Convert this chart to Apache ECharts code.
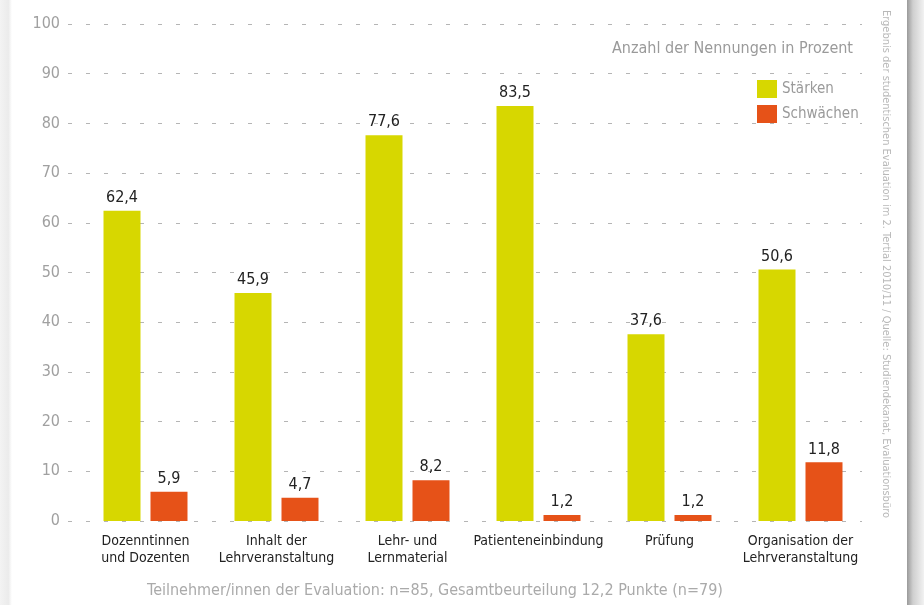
<!DOCTYPE html>
<html><head><meta charset="utf-8">
<script src="https://cdn.jsdelivr.net/npm/echarts@6/dist/echarts.min.js"></script>
<style>html,body{margin:0;padding:0;background:#fff}#c{width:924px;height:605px}</style>
</head><body><div id="c"></div>
<script>
const categories = ['Dozenntinnen\nund Dozenten','Inhalt der\nLehrveranstaltung','Lehr- und\nLernmaterial','Patienteneinbindung','Prüfung','Organisation der\nLehrveranstaltung'];
const staerken = [62.4, 45.9, 77.6, 83.5, 37.6, 50.6];
const schwaechen = [5.9, 4.7, 8.2, 1.2, 1.2, 11.8];
const yTicks = [0,10,20,30,40,50,60,70,80,90,100];
const seriesNames = ['Stärken','Schwächen'];
const titleText = 'Anzahl der Nennungen in Prozent';
const footText = 'Teilnehmer/innen der Evaluation: n=85, Gesamtbeurteilung 12,2 Punkte (n=79)';
const sideText = 'Ergebnis der studentischen Evaluation im 2. Tertial 2010/11 / Quelle: Studiendekanat, Evaluationsbüro';

const FONT = '"Liberation Sans Narrow","DejaVu Sans Condensed","Open Sans",sans-serif';
const fmt = v => String(v).replace('.', ',');
const chart = echarts.init(document.getElementById('c'), null, {renderer:'canvas'});
const lbl = {show:true, position:'top', distance:5, color:'#222', fontSize:16, fontFamily:FONT, formatter:p=>fmt(p.value)};
chart.setOption({
  animation:false,
  backgroundColor:'#fff',
  textStyle:{fontFamily:FONT},
  title:{text:titleText, right:66, top:36, textStyle:{color:'#9a9a9a', fontSize:16, fontWeight:'normal', fontFamily:FONT}},
  legend:{data:seriesNames, orient:'vertical', left:752, top:75, itemWidth:20, itemHeight:18, itemGap:7, icon:'rect',
    textStyle:{color:'#9a9a9a', fontSize:15, fontFamily:FONT}},
  grid:[{left:68, right:62, top:24, bottom:84}, {left:80, right:58, top:24, bottom:84}],
  xAxis:[
    {type:'category', gridIndex:0, data:categories, show:false},
    {type:'category', gridIndex:1, data:categories, axisLine:{show:false}, axisTick:{show:false},
     axisLabel:{color:'#222', fontSize:14, fontFamily:FONT, margin:12, lineHeight:17, interval:0}}
  ],
  yAxis:[
    {type:'value', gridIndex:0, min:yTicks[0], max:yTicks[yTicks.length-1], interval:10,
     axisLine:{show:false}, axisTick:{show:false},
     axisLabel:{color:'#a0a0a0', fontSize:16, fontFamily:FONT, margin:8},
     splitLine:{show:true, lineStyle:{color:'#b5b5b5', width:1, type:[4,14]}}},
    {type:'value', gridIndex:1, min:0, max:100, interval:10, show:false, splitLine:{show:false}}
  ],
  series:[
    {name:seriesNames[0], type:'bar', xAxisIndex:1, yAxisIndex:1, data:staerken, barWidth:37, barGap:'27%',
     itemStyle:{color:'#d7d700'}, label:lbl},
    {name:seriesNames[1], type:'bar', xAxisIndex:1, yAxisIndex:1, data:schwaechen, barWidth:37, barGap:'27%',
     itemStyle:{color:'#e65218'}, label:lbl}
  ],
  graphic:[
    {type:'rect', left:0, top:0, shape:{width:12, height:605}, style:{fill:new echarts.graphic.LinearGradient(0,0,1,0,[{offset:0,color:'#f3f3f3'},{offset:0.7,color:'#ebebeb'},{offset:1,color:'#ffffff'}])}, silent:true},
    {type:'rect', left:907, top:0, shape:{width:17, height:605}, style:{fill:new echarts.graphic.LinearGradient(0,0,1,0,[{offset:0,color:'#9a9a9a'},{offset:0.35,color:'#cfcfcf'},{offset:1,color:'#f2f2f2'}])}, silent:true},
    {type:'text', x:435, y:591, style:{text:footText, fill:'#aaaaaa', fontSize:16, fontFamily:FONT, align:'center', verticalAlign:'middle'}},
    {type:'text', x:886, y:264, rotation:-Math.PI/2, style:{text:sideText, fill:'#b8b8b8', fontSize:11, fontFamily:FONT, align:'center', verticalAlign:'middle'}}
  ]
});
</script></body></html>
